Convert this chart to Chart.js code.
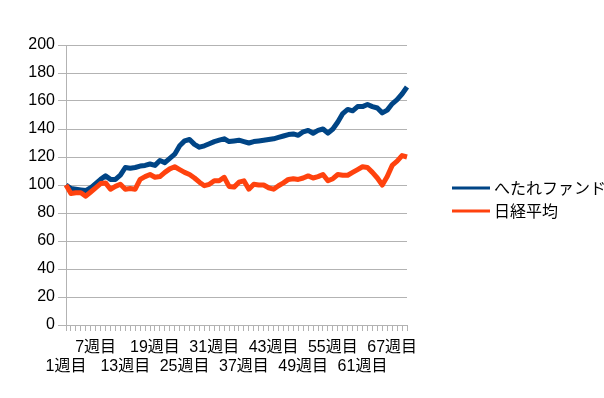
<!DOCTYPE html>
<html><head><meta charset="utf-8">
<script src="https://cdn.jsdelivr.net/npm/chart.js@4/dist/chart.umd.min.js"></script>
<style>html,body{margin:0;padding:0;background:#fff;}#wrap{width:604px;height:398px;}</style>
</head><body><div id="wrap"><canvas id="c" width="604" height="398"></canvas></div>
<script>
const categories = [
'1週目','2週目','3週目','4週目','5週目','6週目','7週目','8週目','9週目','10週目',
'11週目','12週目','13週目','14週目','15週目','16週目','17週目','18週目','19週目','20週目',
'21週目','22週目','23週目','24週目','25週目','26週目','27週目','28週目','29週目','30週目',
'31週目','32週目','33週目','34週目','35週目','36週目','37週目','38週目','39週目','40週目',
'41週目','42週目','43週目','44週目','45週目','46週目','47週目','48週目','49週目','50週目',
'51週目','52週目','53週目','54週目','55週目','56週目','57週目','58週目','59週目','60週目',
'61週目','62週目','63週目','64週目','65週目','66週目','67週目','68週目','69週目','70週目'];
const seriesNames = ['へたれファンド','日経平均'];
const hetareFund = [
100,97.5,97,96.5,96,98,101,104,106.5,104,
104,107,112.5,112,112.5,113.5,114,115,114,117.5,
116,119,122,128,131.5,132.5,129,127,128,129.5,
131,132,133,131,131.5,132,131,130,131,131.5,
132,132.5,133,134,135,136,136.5,135.5,138,139,
137,139,140,137,140,145,151,154,153,156,
156,157.5,156,155,151.5,153.5,158,161,165,170];
const nikkei = [
100,94,94.5,94.5,92,95,98,101,101.5,97,
99,100.5,97,97.5,97,104,106,107.5,105.5,106,
109,111.5,113,111,109,107.5,105,102,99.5,100.5,
103,103,105.5,99,98.5,102,103,97,100.5,100,
100,98,97,99.5,101.5,104,104.5,104,105,106.5,
105,106,107.5,103,104.5,107.5,107,107,109,111,
113,112.5,109,105,100,106,114,117,121,120];
const yTicks = {min:0, max:200, step:20};
const colors = ['#004586','#ff420e'];
const FONT = "'Liberation Sans', 'Noto Sans CJK JP', sans-serif";

const legendPlugin = {
  id:'customLegend',
  afterDraw(chart){
    const ctx = chart.ctx;
    ctx.save();
    const ys = [188, 211];
    chart.data.datasets.forEach((ds, i) => {
      ctx.strokeStyle = ds.borderColor;
      ctx.lineWidth = 3;
      ctx.beginPath();
      ctx.moveTo(452, ys[i]);
      ctx.lineTo(490, ys[i]);
      ctx.stroke();
      ctx.fillStyle = '#000';
      ctx.font = "16px 'Noto Sans CJK JP', sans-serif";
      ctx.textBaseline = 'middle';
      ctx.textAlign = 'left';
      ctx.fillText(ds.label, 494, ys[i]);
    });
    ctx.restore();
  }
};

new Chart(document.getElementById('c'), {
  type:'line',
  data:{
    labels: categories,
    datasets:[
      {label:seriesNames[0], data:hetareFund, borderColor:colors[0], backgroundColor:colors[0], borderWidth:5, pointRadius:0, tension:0, borderJoinStyle:'round', order:1},
      {label:seriesNames[1], data:nikkei, borderColor:colors[1], backgroundColor:colors[1], borderWidth:5, pointRadius:0, tension:0, borderJoinStyle:'round', order:0}
    ]
  },
  options:{
    responsive:false, animation:false, devicePixelRatio:1,
    layout:{padding:{left:0, top:45, right:197, bottom:0}},
    plugins:{legend:{display:false}, tooltip:{enabled:false}},
    scales:{
      x:{
        type:'category', offset:false,
        grid:{drawOnChartArea:false, drawTicks:true, tickLength:6, color:'#b3b3b3'},
        border:{color:'#b3b3b3', width:1},
        ticks:{autoSkip:false, maxRotation:0, minRotation:0, padding:7, color:'#000',
          font:{size:16, family:FONT},
          callback:function(v, i){ const l = categories[i]; return i%12===0 ? ['', l] : (i%12===6 ? l : ''); }},
        afterFit:(s)=>{ s.height = 73; }
      },
      y:{
        min:yTicks.min, max:yTicks.max,
        grid:{color:'#b3b3b3', tickLength:8},
        border:{color:'#b3b3b3', width:1},
        ticks:{stepSize:yTicks.step, padding:3, color:'#000', font:{size:16, family:FONT}},
        afterFit:(s)=>{ s.width = 66; }
      }
    }
  },
  plugins:[legendPlugin]
});
</script></body></html>
